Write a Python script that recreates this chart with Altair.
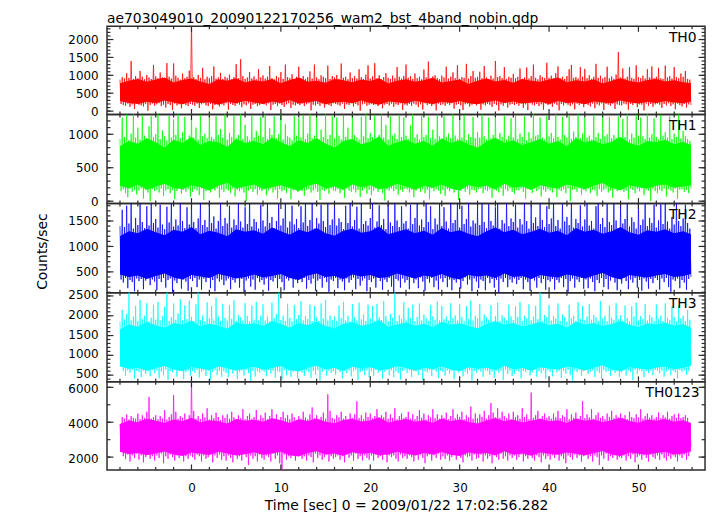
import altair as alt
import pandas as pd

FONT = "DejaVu Sans"
BORDER = "#2b2b2b"
W = 604

# time grid: hi sample at T0 + DT*k, lo sample half a step later
T0 = -8.0
DT = 0.25
# dense core band sampled every 1 s from -8 to the end of the data
CORE_T = list(range(-8, 56)) + [55.875]

x_major = [0, 10, 20, 30, 40, 50]
x_minor = [-8, -6, -4, -2, 2, 4, 6, 8, 12, 14, 16, 18, 22, 24, 26, 28, 32, 34, 36, 38,
           42, 44, 46, 48, 52, 54, 56]

th0_hi = [
    880, 950, 910, 1060, 930, 1400, 900, 980, 920, 1120, 960, 890, 1010, 940, 900, 1290,
    970, 920, 1080, 940, 890, 1340, 960, 910, 1330, 990, 930, 880, 1050, 920, 960, 1130,
    2500, 950, 900, 1010, 930, 1210, 890, 960, 920, 980, 1250, 910, 940, 1070, 900, 960,
    930, 1020, 890, 950, 1310, 920, 1450, 980, 900, 940, 1090, 910, 970, 890, 1170, 940,
    1000, 910, 960, 1260, 920, 890, 980, 940, 1090, 900, 1300, 950, 920, 1030, 880, 960,
    1240, 920, 980, 900, 950, 1110, 910, 1300, 940, 890, 1000, 960, 920, 1270, 900, 980,
    940, 1010, 900, 1330, 930, 960, 890, 1080, 920, 980, 910, 1170, 950, 900, 1020, 1280,
    910, 970, 1340, 920, 1000, 890, 950, 1060, 930, 900, 990, 920, 1230, 960, 910, 980,
    1300, 930, 980, 900, 1050, 920, 960, 890, 1160, 940, 1380, 910, 970, 1000, 920, 890,
    990, 940, 1240, 910, 960, 1080, 920, 1280, 900, 950, 930, 1320, 910, 980, 1120, 930,
    960, 1100, 920, 1260, 940, 900, 990, 910, 1400, 950, 980, 920, 1230, 900, 960, 930,
    1040, 920, 960, 1190, 900, 940, 1220, 910, 980, 1300, 930, 890, 1000, 950, 920, 1350,
    930, 990, 910, 1060, 1250, 920, 960, 900, 980, 1170, 1290, 930, 950, 910, 1230, 960,
    1180, 920, 1000, 900, 960, 1320, 930, 990, 910, 950, 1240, 920, 970, 900, 1020, 1650,
    940, 1190, 910, 960, 1230, 930, 900, 1280, 950, 920, 990, 910, 1170, 940, 1250, 920,
    960, 1210, 920, 900, 1270, 940, 980, 910, 1230, 950, 920, 1050, 960, 1120, 900, 880,
]
th0_lo = [
    200, 170, 150, 210, 120, 190, 60, 220, 180, 160, 130, 200, 10, 170, 210, 150,
    190, 220, 140, 180, 100, 200, 170, 30, 210, 160, 190, 80, 220, 170, 140, 200,
    180, 150, 210, 90, 190, 220, 160, 140, 200, 50, 170, 210, 130, 190, 160, 220,
    40, 200, 170, 150, 210, 180, 110, 190, 160, 220, 60, 180, 200, 140, 170, 210,
    190, 160, 220, 30, 180, 200, 150, 210, 170, 120, 190, 220, 90, 180, 160, 200,
    170, 210, 140, 190, 220, 20, 180, 160, 200, 150, 210, 100, 190, 170, 140, 220,
    200, 180, 150, 210, 60, 190, 170, 220, 130, 200, 160, 10, 190, 210, 150, 180,
    210, 170, 190, 140, 220, 80, 180, 200, 160, 210, 120, 190, 170, 220, 30, 180,
    160, 200, 150, 210, 180, 110, 190, 40, 220, 170, 200, 140, 190, 20, 210, 170,
    190, 150, 210, 170, 220, 70, 180, 200, 160, 30, 190, 210, 130, 180, 200, 160,
    210, 40, 190, 160, 200, 180, 120, 210, 170, 20, 190, 150, 220, 100, 180, 200,
    170, 200, 150, 210, 90, 190, 30, 220, 180, 160, 200, 140, 190, 40, 210, 170,
    190, 120, 210, 170, 20, 200, 160, 220, 180, 140, 190, 50, 210, 170, 200, 110,
    200, 170, 130, 210, 80, 190, 160, 220, 30, 200, 180, 150, 210, 60, 190, 170,
    160, 210, 190, 40, 200, 170, 220, 110, 190, 180, 20, 210, 150, 200, 120, 190,
    210, 180, 90, 200, 160, 220, 140, 190, 50, 210, 170, 130, 200, 100, 190, 170,
]
th0_core_hi = [
    780, 850, 900, 820, 880, 940, 800, 870, 910, 830, 760, 890, 850, 920, 800, 860,
    830, 900, 780, 870, 940, 820, 850, 790, 900, 860, 810, 880, 840, 920, 770, 850,
    890, 820, 860, 930, 800, 840, 880, 760, 850, 910, 830, 870, 790, 900, 850, 820,
    880, 940, 810, 860, 830, 890, 770, 850, 920, 840, 800, 870, 900, 830, 860, 810, 780,
]
th0_core_lo = [
    280, 230, 200, 260, 220, 300, 240, 190, 270, 230, 250, 180, 260, 220, 290, 240,
    200, 270, 230, 310, 210, 250, 280, 190, 240, 260, 220, 300, 230, 180, 270, 250,
    210, 290, 240, 200, 260, 230, 280, 220, 190, 250, 300, 230, 270, 210, 240, 260,
    200, 280, 230, 250, 190, 270, 240, 220, 300, 250, 210, 260, 230, 280, 240, 220, 270,
]

th1_hi = [
    930, 1250, 960, 1300, 910, 1010, 1310, 950, 1100, 920, 1290, 980, 940, 1120, 1270, 960,
    1000, 1320, 930, 1060, 970, 910, 1280, 950, 1220, 990, 1300, 940, 1030, 1260, 920, 980,
    1310, 950, 1100, 920, 1290, 970, 1010, 940, 1330, 960, 930, 1270, 990, 1080, 950, 1300,
    920, 1020, 960, 1280, 940, 990, 1310, 930, 1140, 970, 910, 1290, 950, 1050, 980, 1260,
    960, 1300, 930, 1090, 990, 1270, 940, 1000, 1320, 920, 1150, 970, 950, 910, 1280, 980,
    1240, 950, 1290, 930, 1010, 1330, 940, 980, 1260, 920, 1070, 960, 1300, 930, 990, 1270,
    940, 1250, 980, 920, 1290, 960, 1100, 930, 1310, 990, 950, 920, 1260, 970, 1340, 940,
    1020, 960, 1280, 930, 990, 1300, 950, 1140, 920, 1270, 980, 1010, 930, 1290, 960, 1250,
    980, 930, 1130, 1310, 950, 1000, 920, 1280, 960, 990, 1260, 940, 1070, 930, 1300, 970,
    920, 1270, 960, 1010, 940, 1330, 980, 930, 1240, 950, 1290, 910, 1000, 960, 1260, 940,
    1030, 950, 1300, 970, 920, 1250, 940, 990, 1310, 930, 1020, 960, 1280, 920, 980, 1240,
    950, 1290, 930, 1010, 960, 1270, 910, 1030, 940, 1300, 970, 990, 1250, 950, 920, 1280,
    970, 1020, 940, 1310, 960, 920, 1260, 990, 950, 1280, 930, 1040, 960, 1300, 940, 1010,
    1250, 950, 980, 920, 1290, 960, 1020, 930, 1320, 970, 1000, 1260, 940, 990, 950, 1270,
    930, 1230, 960, 1300, 920, 1010, 950, 1280, 980, 1250, 970, 930, 1310, 950, 1000, 1240,
    960, 920, 1290, 980, 1030, 950, 1270, 930, 1010, 960, 1300, 940, 1050, 970, 930, 900,
]
th1_lo = [
    150, 180, 120, 60, 190, 140, 170, 100, 160, 190, 40, 170, 130, 0, 180, 150,
    170, 130, 190, 80, 160, 180, 120, 170, 30, 150, 190, 110, 170, 140, 180, 60,
    140, 180, 160, 90, 190, 20, 150, 170, 130, 180, 160, 190, 50, 170, 140, 180,
    160, 120, 190, 70, 170, 150, 180, 130, 0, 160, 190, 140, 180, 100, 170, 150,
    180, 90, 160, 190, 130, 170, 40, 180, 150, 170, 120, 190, 30, 160, 180, 140,
    190, 150, 80, 170, 180, 130, 160, 190, 140, 20, 170, 150, 180, 110, 190, 160,
    150, 180, 120, 170, 50, 190, 160, 140, 180, 130, 170, 60, 160, 190, 110, 170,
    90, 160, 190, 140, 180, 120, 10, 170, 160, 190, 150, 180, 100, 170, 140, 190,
    180, 130, 170, 60, 160, 190, 140, 180, 120, 170, 30, 190, 150, 180, 160, 110,
    170, 80, 180, 150, 190, 130, 170, 20, 160, 190, 140, 180, 100, 170, 160, 130,
    180, 190, 120, 170, 150, 180, 50, 170, 160, 130, 190, 80, 180, 150, 190, 140,
    110, 170, 160, 190, 140, 40, 180, 170, 120, 190, 150, 180, 70, 170, 140, 180,
    160, 130, 190, 60, 170, 150, 180, 120, 190, 0, 170, 180, 140, 190, 100, 170,
    150, 190, 120, 170, 160, 80, 180, 140, 170, 190, 130, 160, 50, 180, 150, 170,
    180, 140, 160, 30, 190, 170, 120, 180, 150, 190, 90, 170, 160, 0, 180, 150,
    120, 170, 150, 190, 70, 180, 160, 130, 190, 40, 170, 180, 140, 170, 120, 190,
]
th1_core_hi = [
    820, 900, 860, 940, 880, 800, 920, 870, 960, 840, 900, 880, 810, 930, 870, 900,
    850, 950, 880, 820, 910, 870, 940, 860, 800, 900, 930, 850, 890, 970, 830, 880,
    920, 860, 900, 830, 940, 870, 910, 850, 800, 890, 950, 870, 910, 840, 880, 930,
    860, 900, 820, 940, 880, 910, 850, 890, 960, 870, 830, 900, 880, 920, 850, 890, 840,
]
th1_core_lo = [
    230, 190, 250, 170, 220, 260, 200, 180, 240, 210, 160, 230, 270, 190, 220, 250,
    180, 210, 240, 200, 150, 230, 260, 190, 220, 170, 250, 210, 240, 180, 200, 260,
    220, 170, 230, 200, 250, 190, 160, 240, 210, 230, 180, 260, 200, 220, 170, 240,
    210, 190, 250, 220, 180, 230, 270, 200, 160, 240, 210, 190, 230, 250, 200, 220, 240,
]

th2_hi = [
    1400, 1720, 1380, 1800, 1450, 1900, 1350, 1560, 1420, 1850, 1480, 1360, 1790, 1410, 1880, 1460,
    1540, 1370, 1820, 1430, 1340, 1780, 1470, 1900, 1390, 1530, 1410, 1860, 1500, 1360, 1770, 1430,
    1810, 1480, 1360, 1550, 1900, 1420, 1520, 1380, 1840, 1460, 1590, 1350, 1500, 1870, 1400, 1560,
    1450, 1800, 1370, 1530, 1420, 1880, 1490, 1370, 1770, 1440, 1900, 1390, 1540, 1480, 1350, 1820,
    1510, 1390, 1860, 1460, 1580, 1360, 1500, 1830, 1410, 1550, 1900, 1370, 1490, 1800, 1430, 1540,
    1360, 1790, 1470, 1900, 1400, 1520, 1850, 1350, 1560, 1450, 1820, 1500, 1380, 1870, 1420, 1530,
    1840, 1410, 1550, 1480, 1340, 1800, 1460, 1900, 1390, 1520, 1780, 1350, 1850, 1440, 1500, 1410,
    1560, 1880, 1370, 1490, 1810, 1420, 1540, 1340, 1830, 1470, 1400, 1900, 1510, 1380, 1790, 1450,
    1500, 1350, 1820, 1440, 1560, 1900, 1410, 1530, 1380, 1860, 1480, 1790, 1340, 1550, 1430, 1840,
    1400, 1770, 1490, 1350, 1850, 1460, 1520, 1900, 1370, 1800, 1440, 1540, 1880, 1390, 1510, 1450,
    1790, 1420, 1900, 1480, 1360, 1830, 1500, 1410, 1770, 1860, 1350, 1520, 1450, 1900, 1400, 1550,
    1480, 1820, 1370, 1540, 1430, 1900, 1500, 1350, 1810, 1460, 1570, 1400, 1870, 1520, 1380, 1790,
    1440, 1550, 1880, 1400, 1520, 1350, 1830, 1490, 1580, 1420, 1900, 1370, 1540, 1460, 1810, 1390,
    1530, 1860, 1410, 1500, 1350, 1790, 1900, 1440, 1560, 1380, 1840, 1480, 1420, 1870, 1510, 1360,
    1800, 1450, 1540, 1900, 1390, 1570, 1480, 1350, 1850, 1420, 1530, 1880, 1400, 1560, 1460, 1820,
    1370, 1510, 1830, 1440, 1900, 1490, 1350, 1580, 1430, 1860, 1500, 1400, 1550, 1820, 1460, 1350,
]
th2_lo = [
    350, 290, 380, 180, 340, 300, 120, 370, 320, 360, 160, 330, 380, 240, 350, 310,
    140, 360, 300, 380, 190, 340, 370, 110, 330, 280, 370, 170, 350, 310, 130, 360,
    320, 380, 200, 350, 150, 370, 300, 390, 180, 340, 120, 370, 310, 350, 240, 330,
    370, 160, 340, 290, 380, 190, 360, 100, 330, 370, 210, 350, 150, 380, 300, 340,
    250, 370, 130, 340, 310, 380, 180, 360, 300, 140, 370, 330, 390, 190, 350, 280,
    360, 300, 380, 170, 340, 270, 370, 130, 330, 360, 190, 380, 300, 110, 350, 320,
    380, 180, 350, 310, 140, 370, 290, 340, 390, 160, 360, 230, 330, 370, 120, 340,
    300, 370, 190, 380, 320, 150, 350, 300, 380, 210, 100, 360, 330, 190, 370, 290,
    340, 160, 380, 280, 350, 180, 390, 310, 130, 360, 290, 380, 200, 330, 150, 370,
    300, 380, 200, 350, 140, 340, 290, 370, 170, 320, 390, 250, 350, 120, 370, 310,
    180, 350, 320, 140, 380, 280, 360, 190, 340, 100, 370, 300, 380, 200, 350, 290,
    370, 260, 340, 380, 160, 350, 300, 130, 370, 330, 190, 380, 280, 360, 150, 340,
    310, 360, 150, 340, 290, 380, 200, 360, 110, 320, 370, 190, 350, 300, 380, 170,
    350, 180, 370, 300, 120, 340, 280, 380, 200, 360, 160, 330, 390, 290, 140, 360,
    270, 380, 320, 160, 350, 290, 380, 190, 340, 130, 370, 310, 170, 360, 280, 380,
    340, 150, 370, 300, 380, 200, 110, 350, 320, 370, 180, 340, 290, 150, 360, 400,
]
th2_core_hi = [
    1200, 1300, 1260, 1350, 1280, 1220, 1330, 1290, 1380, 1240, 1310, 1270, 1200, 1340, 1290, 1320,
    1250, 1370, 1300, 1230, 1330, 1280, 1360, 1260, 1210, 1310, 1350, 1270, 1300, 1390, 1240, 1290,
    1340, 1260, 1310, 1230, 1360, 1280, 1320, 1250, 1200, 1300, 1370, 1280, 1330, 1240, 1290, 1350,
    1270, 1310, 1220, 1360, 1290, 1330, 1250, 1300, 1380, 1280, 1230, 1320, 1290, 1340, 1260, 1300, 1240,
]
th2_core_lo = [
    450, 400, 430, 360, 420, 470, 390, 350, 440, 410, 380, 460, 420, 370, 400, 450,
    390, 420, 460, 380, 340, 430, 470, 400, 420, 360, 450, 410, 440, 380, 400, 470,
    420, 370, 430, 400, 460, 390, 350, 440, 410, 430, 380, 470, 400, 420, 360, 440,
    410, 390, 450, 420, 370, 430, 480, 400, 350, 440, 410, 390, 430, 460, 400, 420, 460,
]

th3_hi = [
    1850, 2150, 1900, 2050, 2600, 1880, 1980, 2250, 1870, 2400, 1920, 2000, 2320, 1860, 1950, 2280,
    1900, 2350, 1880, 1990, 2230, 2600, 1870, 1960, 2310, 1900, 2060, 2420, 1880, 2260, 1910, 2380,
    1970, 1870, 2290, 2600, 1890, 2010, 1860, 2340, 1930, 2250, 1880, 2450, 1980, 1870, 2300, 1950,
    1880, 2270, 1920, 2390, 1870, 2020, 1960, 1880, 2320, 1990, 1860, 2260, 1900, 2350, 1880, 2000,
    2290, 1880, 1980, 1860, 2330, 1940, 2040, 2600, 1890, 2000, 1870, 2300, 1950, 1860, 2270, 1910,
    2020, 2370, 1880, 1990, 1920, 2280, 1860, 2250, 1960, 1870, 2310, 1930, 2400, 1880, 2010, 1900,
    1980, 1870, 2260, 1940, 2350, 1880, 2000, 1860, 2290, 1970, 1880, 2330, 1910, 2030, 1870, 2280,
    1930, 2250, 1870, 2300, 1960, 1890, 2370, 1990, 1860, 2040, 1950, 2600, 1870, 2010, 1920, 2340,
    1880, 2200, 1930, 2280, 1860, 1970, 2310, 1880, 2030, 1950, 1870, 2270, 1990, 1900, 2360, 1880,
    2250, 1910, 1980, 1870, 2320, 1940, 2010, 1880, 2290, 1970, 1860, 2240, 1920, 2380, 1880, 2000,
    1940, 2300, 1870, 2030, 1960, 1900, 2270, 1860, 1990, 2330, 1870, 2010, 1950, 1880, 2280, 1980,
    1890, 2240, 1970, 2350, 1870, 2000, 1930, 2290, 1880, 1980, 2250, 1910, 2600, 1870, 2020, 1960,
    2270, 1880, 1990, 1930, 2310, 1870, 2030, 1970, 1860, 2280, 1940, 2000, 1870, 2340, 1920, 2250,
    1880, 1980, 2300, 1900, 2020, 1960, 1870, 2370, 1930, 2000, 1860, 2260, 1950, 1890, 2320, 1910,
    2010, 1870, 2260, 1940, 1860, 2240, 1980, 2330, 1880, 1990, 1920, 2290, 1880, 2020, 1960, 1870,
    2280, 1920, 2000, 1870, 2310, 1950, 1890, 2240, 1970, 1860, 2260, 1930, 2000, 1870, 2150, 1900,
]
th3_lo = [
    1000, 600, 480, 620, 560, 640, 410, 610, 580, 450, 620, 530, 600, 470, 630, 550,
    620, 420, 590, 500, 640, 380, 610, 570, 630, 460, 600, 640, 400, 580, 620, 490,
    600, 560, 630, 440, 590, 620, 480, 610, 370, 580, 630, 500, 610, 460, 600, 560,
    450, 640, 540, 610, 400, 590, 620, 490, 630, 560, 350, 610, 470, 600, 570, 620,
    590, 470, 630, 540, 610, 440, 600, 580, 390, 630, 500, 610, 460, 590, 620, 420,
    630, 570, 480, 620, 590, 430, 610, 510, 630, 360, 590, 640, 490, 610, 560, 600,
    510, 630, 580, 420, 610, 550, 620, 470, 600, 630, 380, 570, 610, 500, 620, 450,
    600, 480, 630, 560, 610, 410, 590, 640, 500, 620, 450, 600, 550, 390, 610, 630,
    560, 620, 450, 610, 590, 500, 630, 370, 600, 570, 620, 480, 630, 590, 430, 610,
    580, 490, 620, 540, 610, 400, 640, 570, 610, 470, 590, 530, 620, 360, 600, 560,
    630, 590, 460, 620, 600, 510, 590, 440, 620, 560, 610, 380, 640, 530, 610, 480,
    540, 620, 590, 420, 610, 580, 630, 490, 570, 640, 460, 600, 550, 620, 410, 620,
    590, 470, 640, 570, 610, 430, 610, 540, 630, 500, 360, 620, 580, 630, 480, 600,
    640, 530, 590, 620, 450, 610, 560, 400, 630, 590, 610, 480, 620, 550, 600, 460,
    570, 620, 490, 620, 590, 380, 640, 540, 620, 600, 450, 610, 560, 620, 500, 630,
    610, 550, 620, 460, 590, 630, 500, 610, 570, 420, 630, 590, 620, 510, 600, 800,
]
th3_core_hi = [
    1650, 1780, 1720, 1840, 1760, 1690, 1820, 1770, 1880, 1730, 1800, 1750, 1670, 1830, 1780, 1810,
    1740, 1860, 1790, 1700, 1820, 1760, 1850, 1740, 1680, 1800, 1840, 1750, 1790, 1890, 1720, 1780,
    1830, 1750, 1800, 1710, 1850, 1770, 1810, 1740, 1680, 1790, 1860, 1770, 1820, 1730, 1780, 1840,
    1760, 1800, 1700, 1850, 1780, 1820, 1740, 1790, 1870, 1770, 1710, 1810, 1780, 1830, 1750, 1790, 1700,
]
th3_core_lo = [
    720, 660, 690, 610, 680, 730, 650, 600, 700, 670, 630, 720, 680, 620, 660, 710,
    640, 680, 730, 630, 590, 690, 740, 650, 680, 610, 710, 670, 700, 630, 650, 730,
    680, 620, 690, 650, 720, 640, 600, 700, 670, 690, 630, 740, 650, 680, 610, 700,
    670, 640, 710, 680, 620, 690, 750, 650, 600, 700, 670, 640, 690, 720, 650, 680, 740,
]

th0123_hi = [
    3900, 4300, 4200, 4450, 4150, 4350, 4250, 4200, 4500, 4180, 4400, 4250, 4600, 5450, 4200, 4300,
    4400, 4170, 4350, 4220, 4700, 4150, 4300, 4450, 5550, 4600, 4200, 4350, 4250, 4500, 4160, 4400,
    6500, 4650, 4200, 4350, 4180, 4500, 4270, 4800, 4150, 4400, 4230, 4550, 4300, 4120, 4400, 4250,
    4450, 4200, 4600, 4280, 4150, 4400, 4230, 4750, 4170, 4350, 4500, 4200, 4300, 4700, 4140, 4400,
    4250, 4550, 4170, 4350, 4750, 4200, 4450, 4150, 4300, 4600, 4230, 4400, 4170, 4500, 4280, 4120,
    4350, 4200, 4600, 4270, 4160, 4450, 4850, 4230, 4400, 4150, 4300, 4550, 4200, 5600, 4650, 4250,
    4170, 4400, 4280, 4600, 4200, 4350, 4150, 4500, 4250, 4450, 5200, 4230, 4400, 4170, 4550, 4300,
    4500, 4230, 4350, 4750, 4150, 4400, 4280, 4600, 4200, 4450, 4250, 4800, 4170, 4350, 4500, 4230,
    4300, 4600, 4200, 4450, 4170, 4350, 4700, 4250, 4500, 4150, 4400, 4280, 4750, 4230, 4450, 4200,
    4400, 4250, 4550, 4170, 4350, 4750, 4230, 4450, 4300, 4600, 4170, 4400, 4280, 4900, 4200, 4500,
    4230, 4450, 4300, 4650, 4200, 4400, 5100, 4550, 4280, 4800, 4250, 4600, 4350, 4230, 4500, 4170,
    4600, 4280, 4400, 4200, 4800, 4300, 4450, 4170, 5700, 4250, 4400, 4650, 4200, 4350, 4500, 4250,
    4350, 4200, 4500, 4280, 4650, 4230, 4400, 4300, 4750, 4170, 4450, 4250, 4550, 4200, 4350, 5200,
    4230, 4450, 4280, 4750, 4200, 4400, 4550, 4250, 4350, 4170, 4500, 4300, 4650, 4230, 4400, 4280,
    4500, 4250, 4400, 4170, 4600, 4300, 4230, 4450, 4280, 4750, 4200, 4350, 4500, 4250, 4400, 4200,
    4300, 4550, 4230, 4400, 4280, 4600, 4200, 4350, 4450, 4250, 4500, 4230, 4300, 4400, 4250, 3800,
]
th0123_lo = [
    2400, 2050, 1900, 2150, 1750, 2100, 1950, 2200, 1850, 2100, 1700, 2000, 2150, 1900, 2050, 1800,
    2100, 1950, 2200, 1650, 2050, 1900, 2150, 2000, 1800, 2100, 1950, 2200, 1750, 2050, 1900, 2100,
    2000, 1850, 2150, 2050, 1750, 2100, 1900, 2000, 2200, 1700, 2100, 1950, 2150, 1850, 2050, 1800,
    2100, 1950, 1700, 2150, 1900, 2050, 1800, 2200, 2000, 1550, 2100, 1900, 2050, 1750, 2150, 1950,
    1850, 2100, 2000, 1750, 2200, 1900, 2100, 1650, 1300, 2150, 1850, 2050, 1950, 2100, 1800, 2100,
    2150, 1900, 2050, 1800, 2100, 2000, 1700, 2200, 1950, 2100, 1850, 2000, 2150, 1750, 2050, 1900,
    2000, 2100, 1850, 2050, 1700, 2150, 1950, 2100, 1800, 2200, 1900, 2050, 1800, 2100, 1950, 1850,
    2100, 1800, 2150, 1950, 2050, 1850, 2200, 1700, 2100, 2000, 2100, 1900, 1750, 2150, 1950, 2050,
    1900, 2100, 2000, 1750, 2100, 1850, 2150, 1950, 1650, 2050, 2150, 1800, 2100, 1950, 2200, 1850,
    2050, 1900, 2100, 1800, 2000, 2200, 1850, 2100, 1950, 1700, 2100, 2000, 2050, 1800, 2150, 1900,
    1950, 2150, 1750, 2100, 1900, 2050, 1650, 2100, 2000, 1850, 2200, 1900, 2050, 1800, 2100, 1950,
    2100, 1850, 2000, 2150, 1750, 2050, 1900, 2200, 1950, 1800, 2100, 2000, 1700, 2100, 1900, 2050,
    1850, 2100, 1950, 2150, 1800, 2050, 1900, 1650, 2100, 2000, 1850, 2150, 1950, 2100, 1750, 2050,
    2150, 1900, 2050, 1750, 2100, 2000, 1550, 2100, 1900, 2200, 1800, 2050, 1950, 2100, 1850, 2000,
    1950, 2100, 1800, 2050, 1900, 2150, 1700, 2000, 2100, 1850, 2100, 1950, 1750, 2150, 2000, 1900,
    2100, 1850, 2150, 1950, 1800, 2050, 1900, 2100, 2000, 1750, 2100, 1950, 2150, 1850, 2050, 2600,
]
th0123_core_hi = [
    3900, 4100, 4000, 4200, 4080, 3950, 4160, 4060, 4250, 4000, 4120, 4050, 3920, 4180, 4090, 4140,
    4020, 4230, 4110, 3960, 4170, 4070, 4220, 4030, 3940, 4130, 4200, 4040, 4100, 4280, 3990, 4080,
    4180, 4020, 4120, 3970, 4210, 4060, 4150, 4010, 3930, 4100, 4240, 4060, 4160, 3990, 4080, 4200,
    4050, 4120, 3960, 4220, 4090, 4160, 4010, 4110, 4260, 4070, 3970, 4150, 4090, 4190, 4030, 4110, 3950,
]
th0123_core_lo = [
    2300, 2180, 2240, 2100, 2220, 2320, 2150, 2060, 2260, 2190, 2120, 2300, 2210, 2090, 2170, 2280,
    2130, 2210, 2310, 2110, 2040, 2230, 2330, 2150, 2210, 2080, 2280, 2190, 2250, 2110, 2150, 2310,
    2210, 2090, 2230, 2150, 2290, 2130, 2060, 2260, 2190, 2230, 2110, 2330, 2150, 2210, 2080, 2260,
    2190, 2130, 2270, 2210, 2090, 2230, 2350, 2150, 2060, 2260, 2190, 2130, 2230, 2290, 2150, 2210, 2320,
]

for _lst in (th0_hi, th0_lo, th1_hi, th1_lo, th2_hi, th2_lo, th3_hi, th3_lo, th0123_hi, th0123_lo):
    assert len(_lst) == 256, len(_lst)
for _lst in (th0_core_hi, th0_core_lo, th1_core_hi, th1_core_lo, th2_core_hi, th2_core_lo,
             th3_core_hi, th3_core_lo, th0123_core_hi, th0123_core_lo):
    assert len(_lst) == len(CORE_T), len(_lst)

panels = [
    dict(name="TH0", hi=th0_hi, lo=th0_lo, chi=th0_core_hi, clo=th0_core_lo, color="#ff0000",
         domain=[-94, 2368], major=[0, 500, 1000, 1500, 2000], minor=list(range(0, 2301, 100)),
         h=89, lx=W - 8.5, loff=0),
    dict(name="TH1", hi=th1_hi, lo=th1_lo, chi=th1_core_hi, clo=th1_core_lo, color="#00ff00",
         domain=[-36, 1296], major=[0, 500, 1000], minor=list(range(0, 1201, 100)),
         h=90, lx=W - 8.5, loff=0),
    dict(name="TH2", hi=th2_hi, lo=th2_lo, chi=th2_core_hi, clo=th2_core_lo, color="#0000ff",
         domain=[91, 1842], major=[500, 1000, 1500], minor=list(range(100, 1801, 100)),
         h=90, lx=W - 8.5, loff=0),
    dict(name="TH3", hi=th3_hi, lo=th3_lo, chi=th3_core_hi, clo=th3_core_lo, color="#00ffff",
         domain=[332, 2582], major=[500, 1000, 1500, 2000, 2500], minor=list(range(400, 2501, 100)),
         h=90, lx=W - 8.5, loff=-1.5),
    dict(name="TH0123", hi=th0123_hi, lo=th0123_lo, chi=th0123_core_hi, clo=th0123_core_lo,
         color="#ff00ff", domain=[1264, 6317], major=[2000, 4000, 6000],
         minor=[2000, 3000, 4000, 5000, 6000], h=89, lx=W - 5.5, loff=1.5),
]

XS = alt.Scale(domain=[-9.45, 57.45], nice=False, zero=False)


def tick_layer(df, scale, axis, channel, lo, hi):
    base = alt.Chart(df).mark_rule(color=BORDER, strokeWidth=1.2)
    if channel == "x":
        return base.encode(x=alt.X("t:Q", scale=scale, axis=axis),
                           y=alt.value(lo), y2=alt.value(hi))
    return base.encode(y=alt.Y("v:Q", scale=scale, axis=axis),
                       x=alt.value(lo), x2=alt.value(hi))


def make_panel(i, p):
    H = p["h"]
    rows = []
    for k, (hv, lv) in enumerate(zip(p["hi"], p["lo"])):
        t = T0 + DT * k
        rows.append({"t": t, "v": hv, "o": 2 * k})
        rows.append({"t": t + DT / 2, "v": lv, "o": 2 * k + 1})
    df = pd.DataFrame(rows)
    core = pd.DataFrame({"t": CORE_T, "v": p["clo"], "v2": p["chi"]})
    ys = alt.Scale(domain=p["domain"], nice=False, zero=False)
    bottom = i == len(panels) - 1
    if bottom:
        xaxis = alt.Axis(values=x_major, ticks=False, domain=False, grid=False, format="d",
                         labelPadding=13, labelFlush=False, labelOverlap=False,
                         title="Time [sec] 0 = 2009/01/22 17:02:56.282", titlePadding=5)
    else:
        xaxis = None
    if p["name"] == "TH2":
        yaxis = alt.Axis(values=p["major"], ticks=False, domain=False, grid=False, format="d",
                         labelPadding=9, labelFlush=False, labelOverlap=False,
                         labelOffset=p["loff"],
                         title="Counts/sec", titleX=-65, titleY=H / 2 + 3, titleAngle=270,
                         titleAlign="center", titleBaseline="middle")
    else:
        yaxis = alt.Axis(values=p["major"], ticks=False, domain=False, grid=False, format="d",
                         labelPadding=9, labelFlush=False, labelOverlap=False,
                         labelOffset=p["loff"], title=None)

    band = alt.Chart(core).mark_area(color=p["color"], clip=True).encode(
        x=alt.X("t:Q", scale=XS, axis=xaxis),
        y=alt.Y("v:Q", scale=ys, axis=yaxis),
        y2="v2:Q",
    )
    line = alt.Chart(df).mark_line(color=p["color"], strokeWidth=1, strokeOpacity=0.75,
                                   clip=True).encode(
        x=alt.X("t:Q", scale=XS, axis=xaxis),
        y=alt.Y("v:Q", scale=ys, axis=yaxis),
        order="o:Q",
    )
    xmin = pd.DataFrame({"t": x_minor})
    xmaj = pd.DataFrame({"t": x_major})
    ymin = pd.DataFrame({"v": p["minor"]})
    ymaj = pd.DataFrame({"v": p["major"]})
    layers = [
        band,
        line,
        tick_layer(xmin, XS, xaxis, "x", 0, 3),
        tick_layer(xmin, XS, xaxis, "x", H - 3, H),
        tick_layer(xmaj, XS, xaxis, "x", 0, 5.5),
        tick_layer(xmaj, XS, xaxis, "x", H - 5.5, H),
        tick_layer(ymin, ys, yaxis, "y", 0, 3.5),
        tick_layer(ymin, ys, yaxis, "y", W - 3.5, W),
        tick_layer(ymaj, ys, yaxis, "y", 0, 6.5),
        tick_layer(ymaj, ys, yaxis, "y", W - 6.5, W),
        alt.Chart(pd.DataFrame({"lab": [p["name"]]})).mark_text(
            align="right", baseline="alphabetic", fontSize=14, font=FONT, color="black"
        ).encode(x=alt.value(p["lx"]), y=alt.value(15.5), text="lab:N"),
    ]
    ch = alt.layer(*layers).properties(width=W, height=H)
    if i == 0:
        ch = ch.properties(title=alt.TitleParams(
            text="ae703049010_20090122170256_wam2_bst_4band_nobin.qdp",
            anchor="start", frame="group", fontSize=14, font=FONT, fontWeight="normal",
            color="black", offset=0))
    return ch


charts = [make_panel(i, p) for i, p in enumerate(panels)]

chart = alt.vconcat(*charts, spacing=0, bounds="flush").properties(
    padding={"left": 27, "top": 0, "right": 2, "bottom": 2}
).configure_axis(
    labelFont=FONT, labelFontSize=12, labelColor="black",
    titleFont=FONT, titleFontSize=14, titleColor="black", titleFontWeight="normal",
).configure_view(
    stroke=BORDER, strokeWidth=1.5
).configure_concat(spacing=0)

chart.save("out.html", embed_options={"renderer": "svg", "actions": False})
